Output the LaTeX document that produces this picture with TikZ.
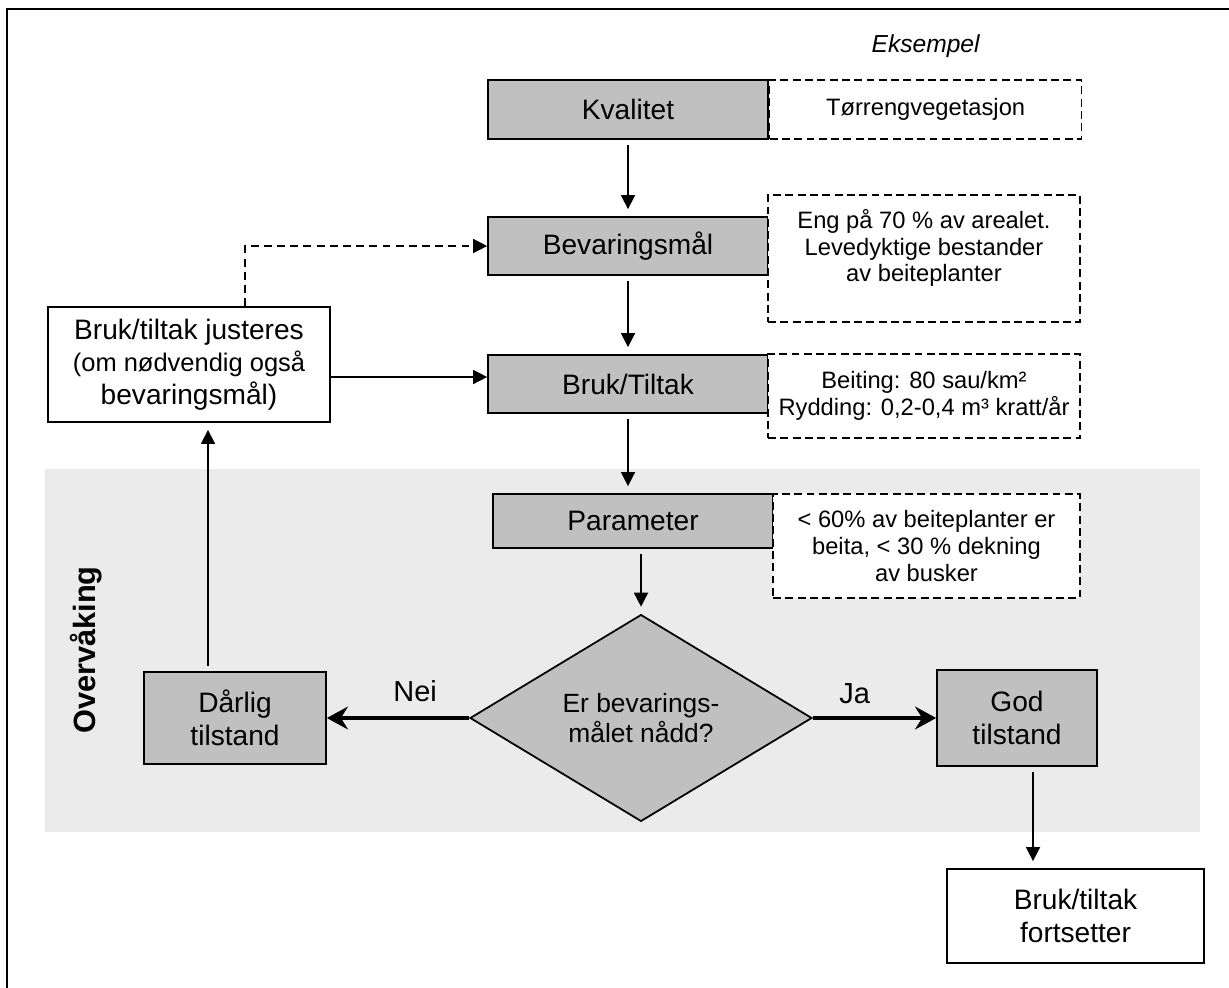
\documentclass[tikz,border=0pt]{standalone}
\usepackage{fontspec}
\setmainfont{Liberation Sans}
\usepackage{tikz}
\usetikzlibrary{shapes.geometric, arrows.meta, positioning, fit}
\usepackage{xcolor}
\definecolor{boxgray}{HTML}{C0C0C0}
\definecolor{bandgray}{HTML}{EBEBEB}
\newcommand{\fs}[2]{\fontsize{#1}{#2}\selectfont}

\begin{document}
\begin{tikzpicture}[
    x=0.02cm, y=-0.02cm,
    font=\fs{16}{18.5},
    >={Triangle[length=8pt,width=8pt]},
    box/.style={rectangle, draw=black, line width=1pt, fill=boxgray, align=center, inner sep=1pt},
    note/.style={rectangle, draw=black, line width=0.9pt, dash pattern=on 4.5pt off 2.5pt, fill=white, align=center, inner sep=1pt, font=\fs{13.5}{15.2}},
    line/.style={draw, ->, line width=0.9pt},
    vline/.style={line, shorten <=3pt, shorten >=4pt},
    answer/.style={draw, line width=1.8pt, -{Stealth[length=12pt,width=13pt,inset=4pt]}}
]
\useasboundingbox (0,0) rectangle (1229,987);

% Background
\fill[bandgray] (45,469) rectangle (1200,832);
\draw[line width=1.7pt] (7,1000) -- (7,9) -- (1240,9);

% Nodes
\node[box, minimum width=5.6cm, minimum height=1.18cm] (kval) at (628,109.5) {Kvalitet};
\node[note, right=0pt of kval, minimum width=6.24cm, minimum height=1.18cm] (ex1) {Tørrengvegetasjon};
\node[above=0.3cm of ex1, font=\fs{14}{16}\itshape] (eks) {Eksempel};
\node[box, minimum width=5.6cm, minimum height=1.16cm] (bev) at (628,246) {Bevaringsmål};
\node[note, fit={(768,195) (1080,322)}, inner sep=0pt] (ex2) {};
\node[align=center, font=\fs{13.5}{15.2}] (ex2txt) at (924,248) {Eng på 70 \% av arealet.\\Levedyktige bestander\\av beiteplanter};
\node[box, minimum width=5.6cm, minimum height=1.16cm] (bru) at (628,384) {Bruk/Tiltak};
\node[note, minimum width=6.24cm, minimum height=1.68cm] (ex3) at (924,396) {Beiting: 80 sau/km²\\Rydding: 0,2-0,4 m³ kratt/år};
\node[box, minimum width=5.6cm, minimum height=1.08cm] (par) at (633,521) {Parameter};
\node[note, minimum width=6.14cm, minimum height=2.08cm] (ex4) at (926.5,546) {< 60\% av beiteplanter er\\beita, < 30 \% dekning\\av busker};
\node[diamond, draw, line width=1pt, fill=boxgray, minimum width=6.84cm, minimum height=3.86cm, inner sep=0pt, align=center, font=\fs{15}{17.5}] (dia) at (641,718) {Er bevarings-\\målet nådd?};
\node[box, minimum width=3.64cm, minimum height=1.84cm] (dar) at (235,718) {Dårlig\\tilstand};
\node[box, minimum width=3.2cm, minimum height=1.92cm] (god) at (1017,718) {God\\tilstand};
\node[box, fill=white, minimum width=5.14cm, minimum height=1.88cm] (fort) at (1075.5,916) {Bruk/tiltak\\fortsetter};
\node[box, fill=white, minimum width=5.64cm, minimum height=2.3cm] (jus) at (189,364.5) {Bruk/tiltak justeres\\\fs{14.5}{16.2}(om nødvendig også\\bevaringsmål)};
\node[rotate=90, font=\fs{17.5}{20}\bfseries] (ovr) at (86,650) {Overvåking};

% Edges
\draw[vline] (kval) -- (bev);
\draw[vline] (bev) -- (bru);
\draw[vline] (bru) -- (par.north -| bru.south);
\draw[vline] (par.south -| dia.north) -- (dia.north);
\draw[answer] (dia.west) -- node[pos=0.38, above=5pt, font=\fs{16.5}{19}] (nei) {Nei} (dar.east);
\draw[answer] (dia.east) -- node[pos=0.34, above=4pt, font=\fs{16.5}{19}] (ja) {Ja} (god.west);
\draw[vline] ([xshift=0.32cm]god.south) -- ([xshift=0.32cm]god.south |- fort.north);
\draw[vline] ([xshift=-0.54cm]dar.north) -- ([xshift=-0.54cm]dar.north |- jus.south);
\draw[line] ([yshift=-0.25cm]jus.east) -- ([yshift=-0.25cm]jus.east -| bru.west);

% Feedback
\draw[line, dash pattern=on 4.5pt off 3pt] ([xshift=1.12cm]jus.north) |- (bev.west);

\end{tikzpicture}
\end{document}
